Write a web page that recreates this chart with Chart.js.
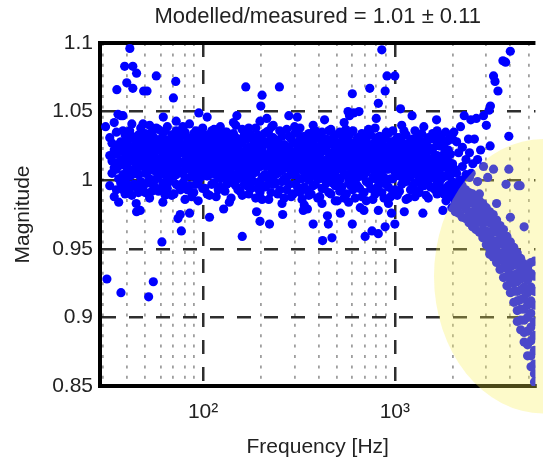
<!DOCTYPE html>
<html>
<head>
<meta charset="utf-8">
<script src="https://cdn.jsdelivr.net/npm/chart.js@4.4.1/dist/chart.umd.min.js"></script>
<style>
  html, body { margin: 0; padding: 0; background: #fff; overflow: hidden; }
</style>
</head>
<body>
<canvas id="magChart" width="543" height="462"></canvas>
<script>
// Values. Each row: [frequency Hz, magnitude, magnitude, ...]
const bandRows = [
  [32.6, 1.018, 0.996, 1.031],
  [34.4, 1.009, 1.042, 0.988, 1.022],
  [36.3, 1.026, 1.001, 1.013, 0.984],
  [38.2, 1.036, 1.015, 0.993, 1.004, 1.047],
  [40.3, 1.021, 1.008, 0.997, 1.029, 1.012],
  [42.5, 1.032, 1.017, 0.989, 1.004, 1.024, 1.041],
  [44.8, 1.012, 1.027, 0.995, 1.019, 1.006, 0.983],
  [47.3, 1.038, 1.022, 1.010, 0.999, 1.015, 1.030],
  [49.9, 1.025, 1.005, 1.018, 0.991, 1.034, 1.011],
  [52.6, 1.016, 1.028, 1.001, 1.040, 0.987, 1.021, 1.009],
  [55.5, 1.031, 1.013, 0.996, 1.024, 1.007, 1.019],
  [58.5, 1.022, 1.037, 1.003, 1.014, 0.992, 1.028],
  [61.7, 1.010, 1.026, 1.018, 0.998, 1.034, 1.005, 0.984],
  [65.1, 1.029, 1.015, 1.002, 1.021, 1.039, 0.994],
  [68.6, 1.017, 1.033, 1.008, 0.989, 1.025, 1.012],
  [72.4, 1.024, 1.004, 1.036, 1.015, 0.997, 1.043, 1.010],
  [76.3, 1.013, 1.027, 0.993, 1.020, 1.006, 1.032],
  [80.5, 1.035, 1.019, 1.002, 1.026, 0.986, 1.011],
  [84.9, 1.008, 1.023, 1.016, 0.996, 1.030, 1.041],
  [89.4, 1.027, 1.012, 1.003, 1.019, 0.991, 1.034, 1.021],
  [94.3, 1.016, 1.031, 0.999, 1.009, 1.024, 0.985],
  [99.5, 1.022, 1.006, 1.038, 1.014, 0.994, 1.028],
  [105, 1.011, 1.026, 1.003, 1.019, 1.033, 0.990, 1.046],
  [111, 1.029, 1.015, 0.997, 1.021, 1.008, 1.036],
  [117, 1.018, 1.004, 1.032, 1.012, 0.988, 1.025],
  [123, 1.024, 1.039, 1.009, 0.995, 1.016, 1.030, 1.001],
  [130, 1.013, 1.027, 1.002, 1.020, 0.992, 1.035],
  [137, 1.031, 1.017, 1.006, 0.984, 1.023, 1.010],
  [144, 1.020, 1.034, 0.998, 1.012, 1.026, 1.004, 1.042],
  [152, 1.009, 1.024, 1.016, 0.993, 1.030, 1.001],
  [160, 1.027, 1.013, 1.037, 1.005, 0.989, 1.019],
  [169, 1.015, 1.030, 1.000, 1.022, 1.008, 0.996, 1.035],
  [178, 1.024, 1.011, 1.033, 0.994, 1.018, 1.003],
  [188, 1.006, 1.021, 1.014, 1.038, 0.987, 1.027],
  [198, 1.030, 1.016, 0.999, 1.010, 1.025, 1.043, 0.991],
  [209, 1.019, 1.004, 1.028, 1.012, 0.995, 1.034],
  [220, 1.011, 1.026, 1.001, 1.036, 1.017, 0.986],
  [232, 1.023, 1.008, 1.031, 0.997, 1.014, 1.040, 1.003],
  [245, 1.015, 1.029, 1.005, 0.990, 1.020, 1.010],
  [258, 1.032, 1.018, 0.999, 1.025, 1.007, 0.983],
  [273, 1.009, 1.024, 1.013, 1.037, 0.993, 1.019, 1.002],
  [288, 1.021, 1.006, 1.030, 1.015, 0.988, 1.011],
  [303, 1.027, 1.012, 0.997, 1.035, 1.004, 1.020],
  [320, 1.014, 1.029, 1.001, 1.018, 0.991, 1.038, 1.008],
  [337, 1.023, 1.006, 1.032, 0.995, 1.013, 0.982],
  [356, 1.010, 1.025, 1.017, 1.000, 1.034, 0.989, 1.021],
  [375, 1.028, 1.012, 0.996, 1.019, 1.005, 1.040],
  [396, 1.016, 1.031, 1.002, 0.987, 1.023, 1.009],
  [417, 1.006, 1.021, 1.035, 1.013, 0.994, 1.027, 0.983],
  [440, 1.025, 1.010, 0.998, 1.030, 1.015, 1.003],
  [464, 1.013, 1.028, 1.002, 0.990, 1.020, 1.037],
  [489, 1.022, 1.007, 1.033, 1.016, 0.996, 1.011, 0.985],
  [516, 1.009, 1.026, 1.000, 1.018, 1.035, 0.992],
  [544, 1.030, 1.014, 1.004, 0.987, 1.021, 1.042],
  [574, 1.017, 1.032, 0.998, 1.010, 1.024, 1.001, 0.984],
  [605, 1.005, 1.020, 1.013, 1.036, 0.993, 1.027],
  [638, 1.024, 1.009, 1.031, 0.996, 1.016, 1.002],
  [673, 1.012, 1.027, 1.003, 1.019, 0.988, 1.034, 1.010],
  [710, 1.029, 1.015, 0.999, 1.022, 1.006, 0.985],
  [748, 1.018, 1.033, 1.008, 0.994, 1.025, 1.011],
  [789, 1.007, 1.022, 1.014, 1.038, 0.990, 1.028, 1.001],
  [832, 1.026, 1.011, 0.997, 1.019, 1.032, 1.004],
  [878, 1.015, 1.030, 1.002, 0.987, 1.021, 1.009],
  [926, 1.023, 1.008, 1.034, 1.013, 0.995, 1.018, 0.983],
  [976, 1.010, 1.027, 1.001, 1.020, 0.992, 1.036],
  [1029, 1.031, 1.016, 1.005, 0.989, 1.024, 1.012],
  [1086, 1.019, 1.004, 1.028, 1.013, 0.997, 1.040, 1.008],
  [1145, 1.025, 1.011, 0.999, 1.033, 1.017, 0.986],
  [1207, 1.014, 1.029, 1.003, 1.021, 0.993, 1.007],
  [1273, 1.022, 1.008, 1.036, 1.015, 0.998, 1.027, 0.988],
  [1343, 1.011, 1.026, 1.002, 1.019, 0.991, 1.032],
  [1416, 1.028, 1.013, 0.996, 1.022, 1.005, 1.039],
  [1494, 1.016, 1.031, 1.000, 1.010, 0.987, 1.024, 1.007],
  [1575, 1.023, 1.006, 1.034, 1.014, 0.995, 1.002],
  [1661, 1.012, 1.027, 0.999, 1.018, 0.990, 1.036, 1.005],
  [1752, 1.025, 1.009, 0.994, 1.016, 1.031, 1.001],
  [1848, 1.015, 1.028, 1.003, 0.992, 1.020, 0.985, 1.010],
  [1949, 1.004, 1.019, 0.996, 1.032, 0.988, 1.012]
];

// second pass over the band, between the columns above
const bandRowsB = [
  [33.5, 1.005, 1.027, 1.014],
  [35.3, 1.019, 0.993, 1.035, 1.008],
  [37.2, 1.011, 1.028, 0.998, 1.021],
  [39.2, 1.025, 1.002, 1.016, 0.990, 1.033],
  [41.4, 1.014, 1.036, 1.003, 1.024, 0.994],
  [43.6, 1.008, 1.022, 1.030, 0.997, 1.015],
  [46.0, 1.033, 1.018, 1.004, 1.026, 0.991],
  [48.6, 1.012, 1.027, 0.995, 1.020, 1.041],
  [51.2, 1.021, 1.006, 1.031, 1.013, 0.998],
  [54.0, 1.010, 1.035, 1.024, 0.992, 1.017],
  [57.0, 1.027, 1.009, 1.015, 1.001, 1.038],
  [60.1, 1.016, 1.030, 0.994, 1.022, 1.008],
  [63.4, 1.023, 1.004, 1.012, 1.036, 0.989],
  [66.8, 1.007, 1.021, 1.028, 0.999, 1.014],
  [70.5, 1.030, 1.016, 1.003, 1.022, 0.990],
  [74.3, 1.011, 1.026, 1.019, 0.996, 1.034],
  [78.4, 1.024, 1.005, 1.013, 1.039, 0.998],
  [82.7, 1.017, 1.031, 0.993, 1.009, 1.025],
  [87.1, 1.003, 1.018, 1.029, 1.012, 0.988],
  [91.8, 1.022, 1.036, 1.007, 0.997, 1.015],
  [96.9, 1.010, 1.025, 1.018, 1.002, 1.033],
  [102, 1.029, 1.014, 0.994, 1.021, 1.006],
  [108, 1.016, 1.032, 1.004, 1.024, 0.989],
  [114, 1.008, 1.023, 1.037, 1.013, 0.998],
  [120, 1.027, 1.011, 1.019, 0.993, 1.034],
  [126, 1.015, 1.030, 1.004, 1.022, 1.008],
  [133, 1.022, 1.006, 1.035, 0.997, 1.016],
  [140, 1.009, 1.025, 1.014, 1.001, 0.987],
  [148, 1.031, 1.017, 0.996, 1.023, 1.040],
  [156, 1.014, 1.029, 1.006, 1.020, 0.992],
  [164, 1.021, 1.003, 1.033, 1.010, 0.997],
  [173, 1.007, 1.024, 1.016, 1.038, 0.990],
  [183, 1.029, 1.013, 0.999, 1.021, 1.005],
  [193, 1.016, 1.033, 1.009, 0.994, 1.026],
  [203, 1.023, 1.002, 1.018, 1.011, 0.986],
  [214, 1.010, 1.027, 0.996, 1.035, 1.016],
  [226, 1.031, 1.019, 1.005, 0.991, 1.022],
  [238, 1.017, 1.004, 1.028, 1.012, 0.998],
  [251, 1.008, 1.023, 1.036, 0.993, 1.015],
  [265, 1.026, 1.013, 1.001, 1.020, 0.987],
  [280, 1.015, 1.032, 0.997, 1.009, 1.024],
  [295, 1.004, 1.019, 1.027, 0.990, 1.012],
  [311, 1.022, 1.008, 1.034, 1.015, 0.995],
  [328, 1.011, 1.026, 1.001, 1.018, 0.986],
  [346, 1.029, 1.014, 0.993, 1.022, 1.005],
  [366, 1.018, 1.003, 1.031, 1.009, 0.990],
  [385, 1.007, 1.024, 1.015, 0.997, 1.036],
  [406, 1.025, 1.010, 1.001, 1.019, 0.988],
  [428, 1.014, 1.030, 0.994, 1.022, 1.006],
  [452, 1.020, 1.005, 1.036, 1.012, 0.991],
  [476, 1.009, 1.026, 1.017, 0.998, 1.031],
  [502, 1.027, 1.013, 1.002, 1.021, 0.985],
  [530, 1.016, 1.032, 0.995, 1.008, 1.024],
  [559, 1.004, 1.021, 1.028, 0.990, 1.013],
  [589, 1.023, 1.009, 1.035, 1.016, 0.996],
  [621, 1.012, 1.027, 1.000, 1.019, 0.987],
  [655, 1.030, 1.015, 0.994, 1.023, 1.006],
  [691, 1.019, 1.004, 1.032, 1.010, 0.991],
  [729, 1.008, 1.025, 1.016, 0.998, 1.037],
  [768, 1.026, 1.011, 1.002, 1.020, 0.986],
  [810, 1.015, 1.031, 0.995, 1.009, 1.023],
  [855, 1.003, 1.020, 1.029, 0.991, 1.014],
  [902, 1.024, 1.008, 1.035, 1.017, 0.997],
  [951, 1.013, 1.028, 1.001, 1.019, 0.988],
  [1002, 1.029, 1.016, 0.993, 1.022, 1.006],
  [1057, 1.018, 1.003, 1.031, 1.011, 0.992],
  [1115, 1.007, 1.024, 1.015, 0.999, 1.036],
  [1176, 1.026, 1.012, 1.002, 1.020, 0.987],
  [1240, 1.016, 1.030, 0.996, 1.009, 1.023],
  [1307, 1.004, 1.021, 1.028, 0.992, 1.013],
  [1379, 1.023, 1.008, 1.034, 1.016, 0.997],
  [1454, 1.012, 1.027, 1.001, 1.019, 0.989],
  [1534, 1.030, 1.015, 0.995, 1.022, 1.005],
  [1618, 1.018, 1.004, 1.031, 1.010, 0.993],
  [1706, 1.008, 1.025, 1.014, 0.998, 1.033],
  [1800, 1.024, 1.011, 1.003, 1.019, 0.990],
  [1898, 1.014, 1.029, 0.996, 1.008, 1.022]
];

// ragged fringe just above and below the band
const edgeRows = [
  [36, 1.048], [47, 0.978], [62, 1.046], [85, 0.976], [95, 1.049],
  [128, 0.979], [150, 1.047], [190, 0.977], [215, 1.045], [260, 0.975],
  [310, 1.046], [350, 0.979], [430, 1.044], [520, 0.976], [580, 1.047],
  [690, 0.978], [800, 1.045], [1120, 0.977], [1230, 1.047], [1400, 0.976],
  [1650, 1.044], [1780, 0.978]
];

// high-frequency roll-off (inside the highlighted area)
const rolloffRows = [
  [1983, 0.999, 0.992, 0.988, 0.980, 0.995],
  [2067, 0.997, 0.990, 0.984, 0.977, 0.993],
  [2154, 0.995, 0.989, 0.981, 0.976, 0.999],
  [2245, 0.996, 0.986, 0.982, 0.973, 0.990],
  [2340, 0.993, 0.987, 0.979, 0.972, 0.984],
  [2438, 0.991, 0.983, 0.976, 0.969, 0.987],
  [2541, 0.990, 0.985, 0.977, 0.966, 0.972],
  [2648, 0.988, 0.980, 0.974, 0.964, 0.984, 0.969],
  [2760, 0.985, 0.978, 0.970, 0.962, 0.990],
  [2876, 0.983, 0.975, 0.968, 0.958, 0.979, 0.963],
  [2998, 0.980, 0.971, 0.963, 0.953, 0.976, 0.958],
  [3124, 0.977, 0.969, 0.960, 0.950, 0.973, 0.946],
  [3256, 0.975, 0.964, 0.956, 0.944, 0.969, 0.951],
  [3393, 0.971, 0.962, 0.952, 0.940, 0.966, 0.946, 0.983],
  [3536, 0.967, 0.957, 0.947, 0.935, 0.962, 0.942],
  [3686, 0.964, 0.953, 0.941, 0.929, 0.958, 0.936, 0.947],
  [3841, 0.959, 0.948, 0.936, 0.923, 0.953, 0.930, 0.942],
  [4003, 0.955, 0.943, 0.931, 0.918, 0.949, 0.925, 0.937, 0.973],
  [4172, 0.951, 0.938, 0.925, 0.911, 0.944, 0.919, 0.931],
  [4348, 0.947, 0.932, 0.919, 0.905, 0.940, 0.912, 0.926, 0.897],
  [4531, 0.943, 0.928, 0.913, 0.898, 0.935, 0.906, 0.920, 0.891],
  [4722, 0.939, 0.922, 0.906, 0.889, 0.931, 0.898, 0.914, 0.882, 0.966],
  [4922, 0.936, 0.918, 0.900, 0.880, 0.927, 0.890, 0.909, 0.872],
  [5129, 0.932, 0.912, 0.893, 0.872, 0.922, 0.883, 0.903, 0.864, 0.940],
  [5346, 0.930, 0.909, 0.887, 0.866, 0.853, 0.919, 0.897, 0.876, 0.859, 0.941]
];

// upward branch and points near 1.0 above 2 kHz
const upperRows = [
  [4000, 1.094], [3660, 1.087], [3780, 1.086], [3270, 1.076], [3330, 1.072],
  [3450, 1.065], [3150, 1.054], [3100, 1.051], [2900, 1.047], [2660, 1.045],
  [2490, 1.044], [2300, 1.047], [3000, 1.040], [3930, 1.032], [2420, 1.030],
  [3140, 1.025], [2200, 1.039], [2030, 1.035], [1840, 1.035], [2100, 1.028],
  [2250, 1.024], [2600, 1.030], [2800, 1.022], [2000, 1.030], [2150, 1.020],
  [2350, 1.015], [2550, 1.012], [2450, 1.020], [2700, 1.015], [2250, 1.010],
  [2050, 1.008], [2200, 1.000], [2350, 1.004], [2450, 1.002], [2000, 1.012],
  [2100, 1.005], [2900, 1.010], [3270, 1.008], [3930, 1.008], [4400, 0.996],
  [3800, 0.997], [4500, 0.996], [3050, 1.002], [2500, 1.005], [2700, 0.999]
];

// scattered points away from the band
const strayRows = [
  [41.5, 1.096], [39, 1.083], [43, 1.083], [45, 1.078], [57, 1.076],
  [72, 1.072], [40, 1.071], [35.5, 1.066], [43, 1.067], [49, 1.065],
  [51, 1.065], [70, 1.060], [167, 1.068], [31, 1.039], [37.3, 1.047],
  [45, 0.977], [74, 0.972], [76, 0.975], [77, 0.963], [61, 0.955],
  [108, 0.973], [160, 0.959], [31.5, 0.928], [37.3, 0.918], [55, 0.926],
  [52, 0.915], [855, 1.095], [910, 1.076], [1000, 1.076], [203, 1.062],
  [600, 1.063], [740, 1.067], [890, 1.065], [820, 1.056], [200, 1.054],
  [280, 1.047], [570, 1.050], [610, 1.049], [650, 1.050], [1070, 1.052],
  [228, 1.039], [300, 1.039], [380, 1.036], [555, 1.037], [250, 1.068],
  [198, 0.970], [222, 0.968], [333, 0.978], [375, 0.968], [420, 0.956],
  [470, 0.958], [445, 0.974], [450, 0.968], [600, 0.968], [700, 0.959],
  [760, 0.963], [820, 0.961], [890, 0.966], [1000, 0.968], [660, 0.980],
  [820, 0.978], [960, 0.976]
];

const yTicks = [0.85, 0.9, 0.95, 1, 1.05, 1.1];
const yTickLabels = ['0.85', '0.9', '0.95', '1', '1.05', '1.1'];
const xTicks = [30, 40, 50, 60, 70, 80, 90, 100, 200, 300, 400, 500, 600, 700, 800, 900,
  1000, 2000, 3000, 4000, 5000];
const xMajorTicks = [100, 1000];
const xMajorLabels = ['10²', '10³'];

function toPoints(rows) {
  const pts = [];
  rows.forEach(row => {
    for (let i = 1; i < row.length; i++) {
      pts.push({ x: row[0], y: row[i] });
    }
  });
  return pts;
}

const textColor = '#222';
const font = { family: '"Liberation Sans", Arial, sans-serif', size: 21 };
Chart.defaults.font.family = font.family;

function isMajorX(c) {
  return c.tick && xMajorTicks.includes(c.tick.value);
}

// box top edge + yellow highlight ellipse
const framePlugin = {
  id: 'frame',
  beforeDatasetsDraw(chart) {
    const { ctx, chartArea } = chart;
    ctx.save();
    ctx.strokeStyle = '#000';
    ctx.lineWidth = 4;
    ctx.beginPath();
    ctx.moveTo(chartArea.left - 2, chartArea.top);
    ctx.lineTo(chartArea.right, chartArea.top);
    ctx.stroke();
    ctx.restore();
  },
  afterDatasetsDraw(chart) {
    const { ctx, scales: { x, y } } = chart;
    const cx = x.getPixelForValue(5940);
    const rx = cx - x.getPixelForValue(1600);
    const cy = y.getPixelForValue(0.93);
    const ry = y.getPixelForValue(0.83) - cy;
    ctx.save();
    ctx.fillStyle = 'rgba(250, 240, 80, 0.3)';
    ctx.beginPath();
    ctx.ellipse(cx, cy, rx, ry, 0, 0, Math.PI * 2);
    ctx.fill();
    ctx.restore();
  }
};

const ctx = document.getElementById('magChart').getContext('2d');

const chart = new Chart(ctx, {
  type: 'scatter',
  data: {
    datasets: [{
      data: toPoints(bandRows).concat(toPoints(bandRowsB), toPoints(edgeRows),
        toPoints(rolloffRows), toPoints(upperRows), toPoints(strayRows)),
      backgroundColor: '#0000ff',
      borderWidth: 0,
      pointRadius: 4.6,
      pointHoverRadius: 4.6
    }]
  },
  options: {
    responsive: false,
    animation: false,
    layout: { padding: 0 },
    plugins: {
      legend: { display: false },
      tooltip: { enabled: false },
      title: {
        display: true,
        text: 'Modelled/measured = 1.01 ± 0.11',
        fullSize: false,
        color: textColor,
        font: { size: 22, weight: 'normal' },
        padding: { top: 4, bottom: 12.6 }
      }
    },
    scales: {
      x: {
        type: 'logarithmic',
        min: 29,
        max: 5410,
        afterBuildTicks: (s) => {
          s.ticks = xTicks.map(v => ({ value: v }));
        },
        afterFit: (s) => { s.height = 76; },
        ticks: {
          autoSkip: false,
          maxRotation: 0,
          padding: 14,
          color: textColor,
          font: font,
          callback: (v) => {
            const i = xMajorTicks.indexOf(v);
            return i >= 0 ? xMajorLabels[i] : '';
          }
        },
        grid: {
          drawTicks: false,
          color: (c) => isMajorX(c) ? 'rgba(0,0,0,0.82)' : 'rgba(0,0,0,0.38)',
          lineWidth: (c) => isMajorX(c) ? 2.5 : 1.8
        },
        border: {
          color: '#000',
          width: 4,
          dash: (c) => c.tick ? (isMajorX(c) ? [14, 13] : [3, 7.4]) : []
        },
        title: {
          display: true,
          text: 'Frequency [Hz]',
          color: textColor,
          font: font,
          padding: { top: 0, bottom: 2 }
        }
      },
      y: {
        min: 0.85,
        max: 1.1,
        afterBuildTicks: (s) => {
          s.ticks = yTicks.map(v => ({ value: v }));
        },
        afterFit: (s) => { s.width = 100; },
        ticks: {
          padding: 7,
          color: textColor,
          font: font,
          callback: (v, i) => yTickLabels[i]
        },
        grid: {
          drawTicks: false,
          color: (c) => (c.tick && c.tick.value > 0.86 && c.tick.value < 1.09) ? 'rgba(0,0,0,0.82)' : 'rgba(0,0,0,0)',
          lineWidth: 2.5
        },
        border: {
          color: '#000',
          width: 4,
          dash: (c) => c.tick ? [14, 13] : []
        },
        title: {
          display: true,
          text: 'Magnitude',
          color: textColor,
          font: font,
          padding: { top: 11, bottom: 0 }
        }
      }
    }
  },
  plugins: [framePlugin]
});
</script>
</body>
</html>
